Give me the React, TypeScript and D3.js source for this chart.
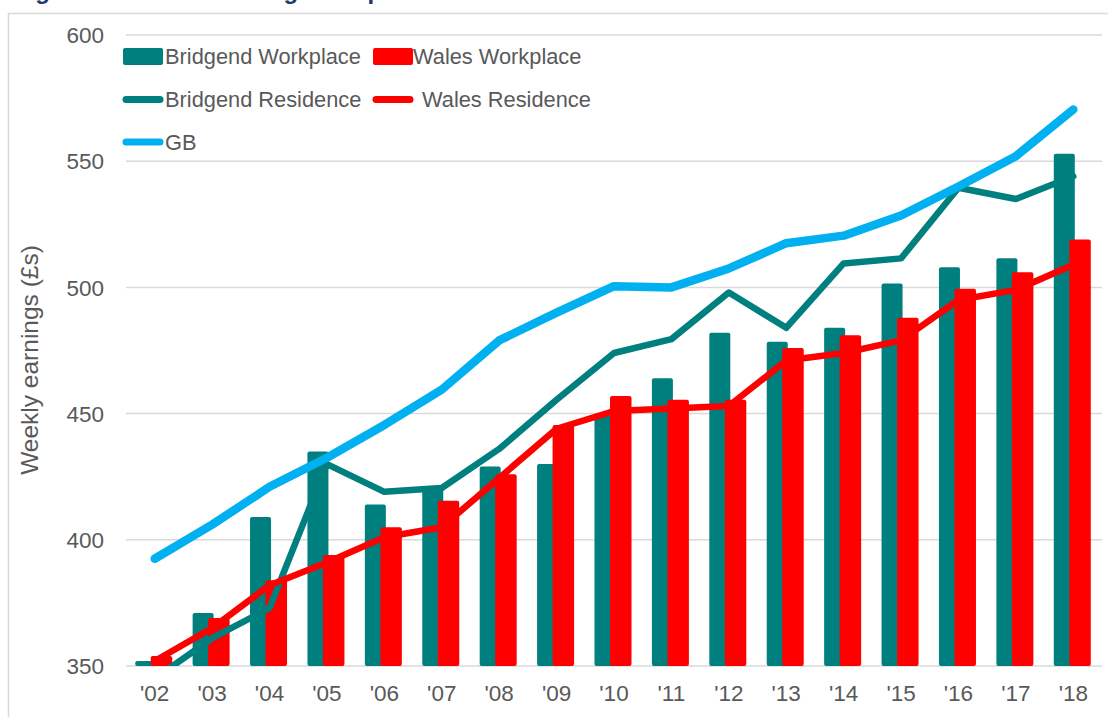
import React from 'react';
import * as d3 from 'd3';

const years = ["'02", "'03", "'04", "'05", "'06", "'07", "'08", "'09", "'10", "'11", "'12", "'13", "'14", "'15", "'16", "'17", "'18"];

const bridgendWorkplace = [352, 371, 409, 435, 414, 421, 429, 430, 449, 464, 482, 478.5, 484, 501.5, 508, 511.5, 553];
const walesWorkplace = [354, 369, 384, 394, 405, 415.5, 426, 445.5, 457, 455.5, 455.5, 476, 481, 488, 499.5, 506, 519];
const bridgendResidence = [345, 361, 373, 430, 419, 420.5, 436, 455.5, 474, 479.5, 498, 484, 509.5, 511.5, 539.5, 535, 544];
const walesResidence = [352, 365, 382, 391, 401, 405, 424.5, 444, 451, 452, 453, 471, 474, 479, 495, 499, 509];
const gb = [392.5, 406, 421, 432.5, 445.5, 459.5, 479, 490, 500.5, 500, 507.5, 517.5, 520.5, 528.5, 540, 552, 570.5];

const yTicks = [350, 400, 450, 500, 550, 600];

const TEAL = '#007f7f';
const RED = '#ff0000';
const BLUE = '#00b0f0';
const TEXT = '#595959';
const GRID = '#d9d9d9';
const FONT = 'Liberation Sans, Arial, sans-serif';

const W = 1108;
const H = 717;
const plot = { left: 126, right: 1102, top: 35, bottom: 666 };

const App: React.FC = () => {
  const x = d3.scaleBand<string>().domain(years).range([plot.left, plot.right]).padding(0);
  const y = d3.scaleLinear().domain([350, 600]).range([plot.bottom, plot.top]);
  const cx = (i: number) => (x(years[i]) as number) + x.bandwidth() / 2;

  const line = d3.line<number>()
    .x((_, i) => cx(i))
    .y((d) => y(d));

  // drawn in this order: GB sits on top
  const lineSeries = [
    { values: bridgendResidence, color: TEAL, width: 6.5 },
    { values: walesResidence, color: RED, width: 6.5 },
    { values: gb, color: BLUE, width: 8.5 },
  ];

  const legendRows = [56.5, 99.5, 142];

  return (
    <svg width={W} height={H} style={{ position: 'absolute', left: 0, top: 0, background: '#fff' }} fontFamily={FONT}>
      <defs>
        <clipPath id="plotClip">
          <rect x={plot.left - 10} y={plot.top - 10} width={plot.right - plot.left + 20} height={plot.bottom - plot.top + 10} />
        </clipPath>
      </defs>

      {/* title, cut off at the top like in the source */}
      <text x={14} y={-1} fontSize={24} fontWeight="bold" fill="#1f3b6e">Figure 3: Median earnings comparison</text>

      {/* chart frame */}
      <rect x={8.5} y={13.5} width={W} height={H} fill="none" stroke={GRID} strokeWidth={1.5} />

      {/* grid + y ticks */}
      {yTicks.map((t) => (
        <g key={t}>
          <line x1={plot.left} x2={plot.right} y1={y(t)} y2={y(t)} stroke={GRID} strokeWidth={1.5} />
          <text x={104} y={y(t)} dy="0.36em" textAnchor="end" fontSize={22.5} fill={TEXT}>{t}</text>
        </g>
      ))}

      <text transform={`translate(29, 360) rotate(-90)`} textAnchor="middle" dy="0.36em" fontSize={24.5} fill={TEXT}>
        Weekly earnings (£s)
      </text>

      {/* x labels */}
      {years.map((yr, i) => (
        <text key={yr} x={cx(i)} y={701} textAnchor="middle" fontSize={22.5} fill={TEXT}>{yr}</text>
      ))}

      {/* bars */}
      <g clipPath="url(#plotClip)">
        {bridgendWorkplace.map((v, i) => (
          <rect key={'bw' + i} x={cx(i) - 19.5} y={y(v)} width={21} height={plot.bottom - y(v)} rx={2} fill={TEAL} />
        ))}
        {walesWorkplace.map((v, i) => (
          <rect key={'ww' + i} x={cx(i) - 4} y={y(v)} width={21.5} height={plot.bottom - y(v)} rx={2} fill={RED} />
        ))}
      </g>

      {/* lines */}
      <g clipPath="url(#plotClip)">
        {lineSeries.map((s, k) => (
          <path key={k} d={line(s.values) || ''} fill="none" stroke={s.color} strokeWidth={s.width}
            strokeLinejoin="round" strokeLinecap="round" />
        ))}
      </g>

      {/* legend */}
      <g fontSize={21.8} fill={TEXT}>
        <rect x={123} y={legendRows[0] - 8.5} width={40} height={17} rx={2} fill={TEAL} />
        <text x={165} y={legendRows[0]} dy="0.36em">Bridgend Workplace</text>
        <rect x={373} y={legendRows[0] - 8.5} width={40} height={17} rx={2} fill={RED} />
        <text x={413} y={legendRows[0]} dy="0.36em">Wales Workplace</text>

        <line x1={126} x2={160} y1={legendRows[1]} y2={legendRows[1]} stroke={TEAL} strokeWidth={7} strokeLinecap="round" />
        <text x={165} y={legendRows[1]} dy="0.36em">Bridgend Residence</text>
        <line x1={376} x2={410} y1={legendRows[1]} y2={legendRows[1]} stroke={RED} strokeWidth={7} strokeLinecap="round" />
        <text x={422} y={legendRows[1]} dy="0.36em">Wales Residence</text>

        <line x1={126} x2={160} y1={legendRows[2]} y2={legendRows[2]} stroke={BLUE} strokeWidth={7} strokeLinecap="round" />
        <text x={165} y={legendRows[2]} dy="0.36em">GB</text>
      </g>
    </svg>
  );
};

export default App;
